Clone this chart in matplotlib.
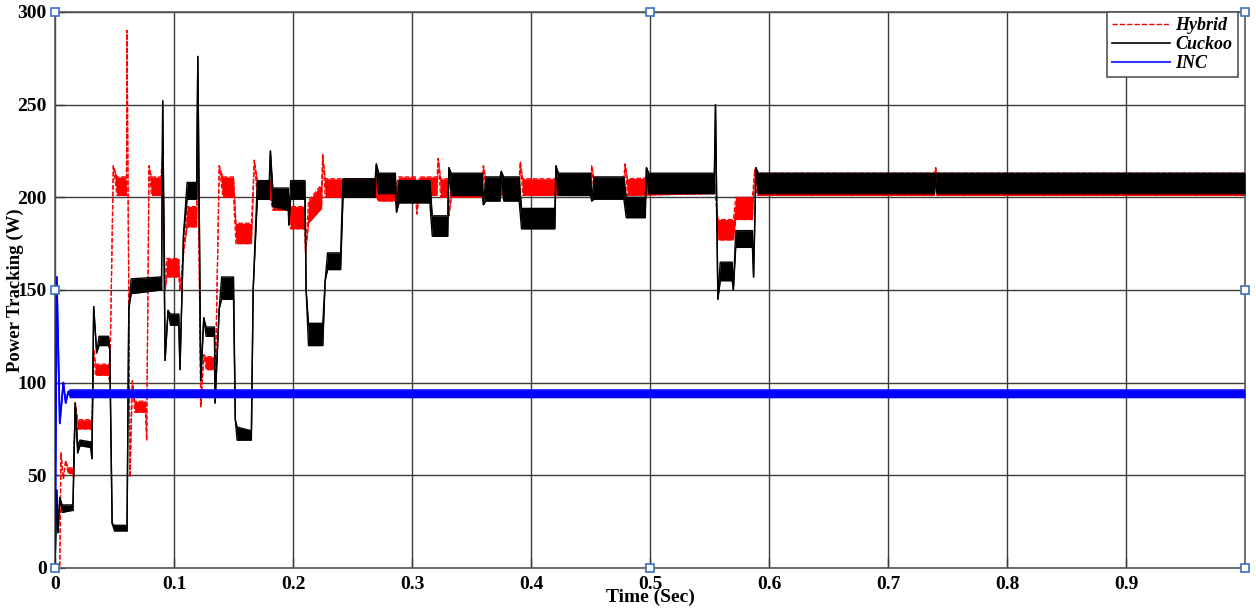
import numpy as np
import matplotlib.pyplot as plt
from matplotlib.lines import Line2D

# Cuckoo (black) - time, lower and upper edge of the oscillation band
cuckoo_t = [0.000, 0.0015, 0.0025, 0.004, 0.006, 0.014, 0.015, 0.017, 0.019, 0.021, 0.030, 0.031,
            0.0325, 0.035, 0.037, 0.045, 0.046, 0.048, 0.050, 0.059, 0.0605, 0.062, 0.064, 0.089,
            0.0895, 0.0905, 0.0925, 0.095, 0.097, 0.104, 0.105, 0.108, 0.111, 0.119, 0.120, 0.1225,
            0.125, 0.127, 0.134, 0.1345, 0.138, 0.140, 0.150, 0.1515, 0.153, 0.165, 0.1665, 0.170,
            0.180, 0.181, 0.183, 0.196, 0.1965, 0.198, 0.210, 0.211, 0.213, 0.225, 0.227, 0.229,
            0.240, 0.242, 0.269, 0.270, 0.272, 0.286, 0.287, 0.289, 0.315, 0.317, 0.330, 0.331,
            0.333, 0.359, 0.360, 0.362, 0.374, 0.375, 0.377, 0.390, 0.392, 0.420, 0.421, 0.423,
            0.450, 0.451, 0.453, 0.478, 0.480, 0.496, 0.497, 0.499, 0.554, 0.555, 0.557, 0.559,
            0.569, 0.570, 0.572, 0.586, 0.587, 0.589, 0.591, 0.739, 0.740, 0.741, 1.000]
cuckoo_lo = [0, 42, 19, 38, 30, 31, 31, 89, 62, 66, 65, 59,
             141, 116, 120, 120, 118, 24, 20, 20, 20, 140, 148, 150,
             150, 252, 112, 139, 131, 131, 107, 180, 199, 199, 276, 101,
             135, 125, 125, 89, 140, 145, 145, 80, 69, 69, 150, 199,
             199, 225, 195, 193, 185, 199, 199, 150, 120, 120, 155, 161,
             161, 200, 200, 218, 202, 202, 192, 197, 197, 179, 179, 216,
             201, 201, 196, 198, 198, 214, 198, 198, 183, 183, 217, 201,
             201, 198, 199, 199, 189, 189, 216, 202, 202, 250, 145, 155,
             155, 150, 173, 173, 157, 216, 202, 202, 212, 202, 202]
cuckoo_hi = [0, 42, 19, 38, 34, 34, 31, 89, 66, 69, 68, 59,
             141, 116, 125, 125, 118, 24, 23, 23, 20, 140, 156, 157,
             150, 252, 112, 139, 137, 137, 107, 180, 208, 208, 276, 101,
             135, 130, 130, 89, 140, 157, 157, 80, 76, 74, 150, 209,
             209, 225, 205, 205, 185, 209, 209, 150, 132, 132, 155, 170,
             170, 210, 210, 218, 213, 213, 192, 209, 209, 190, 190, 216,
             213, 213, 196, 211, 211, 214, 211, 211, 194, 194, 217, 213,
             213, 198, 211, 211, 200, 200, 216, 213, 213, 250, 145, 165,
             165, 150, 182, 182, 157, 216, 213, 213, 212, 213, 213]

# Hybrid (red)
hybrid_t = [0.000, 0.004, 0.005, 0.007, 0.009, 0.011, 0.015, 0.0155, 0.017, 0.019, 0.030, 0.031,
            0.0325, 0.034, 0.045, 0.046, 0.049, 0.052, 0.059, 0.0600, 0.0605, 0.063, 0.065, 0.067,
            0.076, 0.077, 0.079, 0.081, 0.089, 0.0905, 0.0925, 0.094, 0.104, 0.105, 0.108, 0.111,
            0.119, 0.120, 0.1225, 0.125, 0.127, 0.134, 0.1345, 0.138, 0.141, 0.150, 0.152, 0.165,
            0.1675, 0.170, 0.181, 0.183, 0.196, 0.198, 0.210, 0.2105, 0.213, 0.224, 0.225, 0.227,
            0.270, 0.272, 0.286, 0.289, 0.303, 0.304, 0.306, 0.321, 0.322, 0.324, 0.330, 0.331,
            0.333, 0.359, 0.360, 0.362, 0.390, 0.391, 0.393, 0.450, 0.451, 0.453, 0.478, 0.479,
            0.481, 0.554, 0.555, 0.557, 0.570, 0.572, 0.586, 0.588, 0.590, 0.739, 0.740, 0.741, 1.000]
hybrid_lo = [0, 0, 62, 48, 58, 51, 51, 49, 89, 75, 75, 74,
             118, 104, 104, 100, 217, 201, 201, 201, 290, 49, 101, 84,
             84, 69, 217, 201, 201, 225, 150, 157, 157, 150, 170, 184,
             184, 230, 87, 115, 107, 107, 92, 217, 200, 200, 175, 175,
             220, 199, 199, 193, 193, 183, 183, 170, 186, 194, 223, 200,
             200, 198, 198, 201, 201, 191, 201, 201, 221, 200, 200, 190,
             200, 200, 217, 201, 201, 219, 201, 201, 217, 201, 201, 218,
             201, 202, 202, 177, 177, 188, 188, 215, 201, 201, 216, 201, 201]
hybrid_hi = [0, 0, 62, 48, 58, 54, 54, 49, 89, 80, 80, 74,
             118, 110, 110, 100, 217, 211, 211, 201, 290, 49, 101, 90,
             90, 69, 217, 211, 211, 225, 150, 167, 167, 150, 170, 195,
             195, 230, 87, 115, 114, 114, 92, 217, 211, 211, 186, 186,
             220, 209, 209, 203, 203, 195, 195, 170, 198, 207, 223, 210,
             210, 206, 206, 211, 211, 191, 211, 211, 221, 210, 210, 190,
             210, 210, 217, 210, 210, 219, 210, 210, 217, 210, 210, 218,
             210, 212, 202, 188, 188, 200, 200, 215, 213, 213, 216, 213, 213]

# INC (blue)
inc_t = [0.000, 0.0015, 0.004, 0.007, 0.009, 0.011, 0.013, 1.000]
inc_lo = [0, 157, 78, 100, 89, 95, 92, 92]
inc_hi = [0, 157, 78, 100, 89, 95, 96, 96]

x_ticks = [0, 0.1, 0.2, 0.3, 0.4, 0.5, 0.6, 0.7, 0.8, 0.9]
x_tick_labels = ['0', '0.1', '0.2', '0.3', '0.4', '0.5', '0.6', '0.7', '0.8', '0.9']
y_ticks = [0, 50, 100, 150, 200, 250, 300]

serif = 'Liberation Serif'

fig = plt.figure(figsize=(12.56, 6.10), dpi=100)
ax = fig.add_axes([0.0438, 0.0689, 0.9475, 0.9115])

# Hybrid band, dashed thin edges
ax.fill_between(hybrid_t, hybrid_lo, hybrid_hi, color='red', lw=0, zorder=2)
ax.plot(hybrid_t, hybrid_lo, color='red', lw=0.9, ls='--', zorder=2)
ax.plot(hybrid_t, hybrid_hi, color='red', lw=0.9, ls='--', zorder=2)

# Cuckoo band
ax.fill_between(cuckoo_t, cuckoo_lo, cuckoo_hi, color='black', lw=0, zorder=3)
ax.plot(cuckoo_t, cuckoo_lo, color='black', lw=1.0, zorder=3)
ax.plot(cuckoo_t, cuckoo_hi, color='black', lw=1.0, zorder=3)

# INC band
ax.fill_between(inc_t, inc_lo, inc_hi, color='#0000ff', lw=0, zorder=4)
ax.plot(inc_t, inc_lo, color='#0000ff', lw=1.2, zorder=4)
ax.plot(inc_t, inc_hi, color='#0000ff', lw=1.2, zorder=4)

ax.set_xlim(0, 1.0)
ax.set_ylim(0, 300)
ax.set_xticks(x_ticks)
ax.set_xticklabels(x_tick_labels)
ax.set_yticks(y_ticks)
ax.grid(True, color='#3c3c3c', lw=1.0, zorder=1)
ax.set_axisbelow(True)
ax.tick_params(direction='in', length=7, width=1, color='#3c3c3c', pad=6)
for lab in ax.get_xticklabels() + ax.get_yticklabels():
    lab.set_fontfamily(serif)
    lab.set_fontweight('bold')
    lab.set_fontsize(14)
for sp in ax.spines.values():
    sp.set_color('#555555')
    sp.set_linewidth(1.2)

ax.set_xlabel('Time (Sec)', fontfamily=serif, fontweight='bold', fontsize=14)
ax.xaxis.set_label_coords(0.5, -0.037)
ax.set_ylabel('Power Tracking (W)', fontfamily=serif, fontweight='bold', fontsize=13.5)
ax.yaxis.set_label_coords(-0.026, 0.5)

handles = [Line2D([], [], color='red', lw=1, ls='--'),
           Line2D([], [], color='black', lw=1.2),
           Line2D([], [], color='#3333ff', lw=1.5)]
leg = ax.legend(handles, ['Hybrid', 'Cuckoo', 'INC'], loc='upper right',
                bbox_to_anchor=(0.994, 1.0), borderaxespad=0, fancybox=False,
                framealpha=1, edgecolor='#555555', handlelength=3.2, handletextpad=0.3,
                labelspacing=0.1, borderpad=0.3,
                prop={'family': serif, 'weight': 'bold', 'style': 'italic', 'size': 13})
leg.get_frame().set_linewidth(1.2)
leg.set_zorder(6)

# selection handles around the axes box
hx = [0, 0.5, 1, 0, 1, 0, 0.5, 1]
hy = [1, 1, 1, 0.5, 0.5, 0, 0, 0]
ax.plot(hx, hy, ls='none', marker='s', ms=6, mfc='white', mec='#3d6fc4', mew=1.2,
        transform=ax.transAxes, clip_on=False, zorder=7)

plt.savefig('out.png', dpi=100)
